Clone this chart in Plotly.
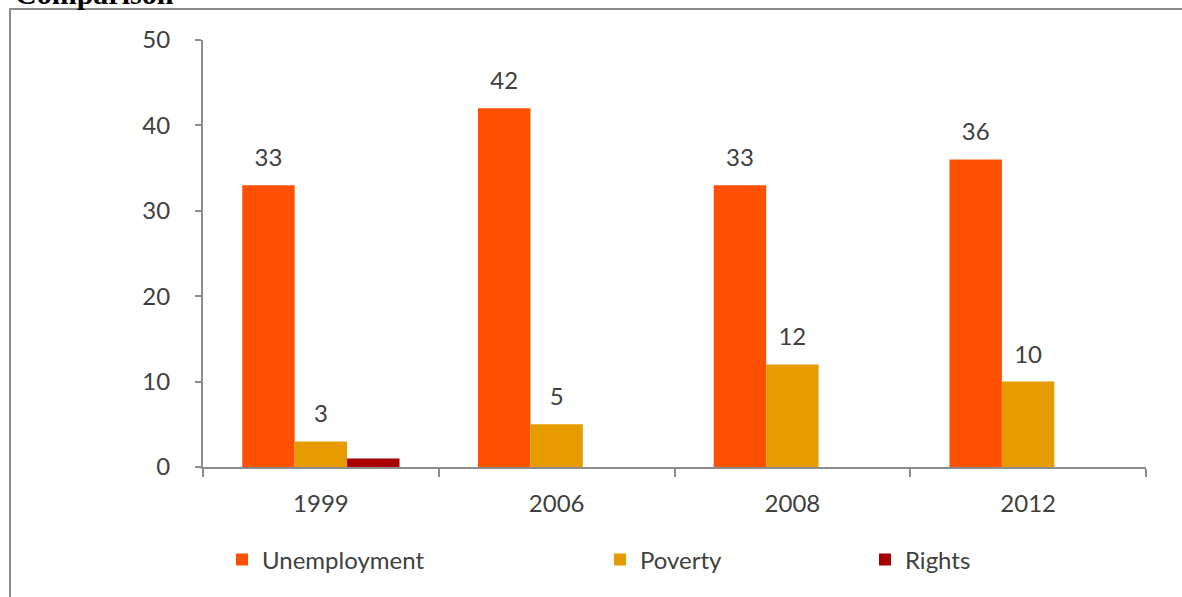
import plotly.graph_objects as go

years = ["1999", "2006", "2008", "2012"]
unemployment = [33, 42, 33, 36]
poverty = [3, 5, 12, 10]
rights = [1, 0, 0, 0]
unemployment_labels = ["33", "42", "33", "36"]
poverty_labels = ["3", "5", "12", "10"]
rights_labels = ["", "", "", ""]
y_ticks = [0, 10, 20, 30, 40, 50]

FONT = "Lato, DejaVu Sans, sans-serif"
TXT = "#404040"
LABEL_GAP = 1.3  # value units between bar top and its label block

L, R, T, B = 203, 36, 40, 130
W, H = 1182, 597
pw, ph = W - L - R, H - T - B

legend_x_px = [222, 600, 865]

fig = go.Figure()
series = [
    ("Unemployment", unemployment, unemployment_labels, "#FF5000"),
    ("Poverty", poverty, poverty_labels, "#E69C00"),
    ("Rights", rights, rights_labels, "#A80000"),
]
for i, (name, vals, labels, color) in enumerate(series):
    leg = "legend" if i == 0 else f"legend{i + 1}"
    fig.add_trace(go.Bar(
        x=years, y=vals, name=name, marker_color=color, marker_line_width=0,
        offsetgroup=name, legend=leg, showlegend=True,
    ))
    # invisible spacer bar carrying the value label
    fig.add_trace(go.Bar(
        x=years, y=[LABEL_GAP] * len(vals), base=vals, offsetgroup=name,
        marker_color="rgba(0,0,0,0)", marker_line_width=0, showlegend=False,
        text=labels, textposition="outside", cliponaxis=False, hoverinfo="skip",
        textfont=dict(family=FONT, size=24, color=TXT),
    ))

legend_common = dict(orientation="h", xanchor="left", yanchor="middle",
                     xref="paper", yref="paper", bgcolor="rgba(0,0,0,0)",
                     font=dict(family=FONT, size=24, color=TXT), itemwidth=30)
ly = (H - B - 560) / ph
fig.update_layout(
    width=W, height=H,
    margin=dict(l=L, r=R, t=T, b=B, autoexpand=False),
    paper_bgcolor="white", plot_bgcolor="white",
    barmode="group", bargap=0.333, bargroupgap=0,
    font=dict(family=FONT, size=24, color=TXT),
    legend=dict(x=(legend_x_px[0] - L) / pw, y=ly, **legend_common),
    legend2=dict(x=(legend_x_px[1] - L) / pw, y=ly, **legend_common),
    legend3=dict(x=(legend_x_px[2] - L) / pw, y=ly, **legend_common),
    xaxis=dict(type="category", showline=True, linecolor="#8C8C8C", linewidth=2,
               ticks="outside", tickson="boundaries", ticklen=8, tickcolor="#8C8C8C",
               tickwidth=2, showgrid=False, tickfont=dict(size=24, color=TXT),
               ticklabelstandoff=14, automargin=False),
    yaxis=dict(range=[0, 50], tickvals=y_ticks, showline=True, linecolor="#8C8C8C",
               linewidth=2, ticks="outside", ticklen=6, tickcolor="#8C8C8C", tickwidth=2,
               showgrid=False, zeroline=False, tickfont=dict(size=24, color=TXT),
               ticklabelstandoff=20, automargin=False),
)

# outer frame (partially cropped)
fig.add_shape(type="rect", xref="paper", yref="paper",
              x0=(10 - L) / pw, x1=1.2, y0=-0.5, y1=1 + (T - 9) / ph,
              line=dict(color="#8C8C8C", width=2), fillcolor="rgba(0,0,0,0)", layer="below")

fig.add_annotation(text="<b>Comparison</b>", xref="paper", yref="paper",
                   x=(13 - L) / pw, y=(H - B - 12) / ph, xanchor="left", yanchor="bottom",
                   showarrow=False,
                   font=dict(family="Liberation Serif, Times New Roman, serif", size=30, color="black"))

fig.write_html("out.html", config={"displayModeBar": False},
               post_script="document.body.style.margin='0';document.body.style.overflow='hidden';")
